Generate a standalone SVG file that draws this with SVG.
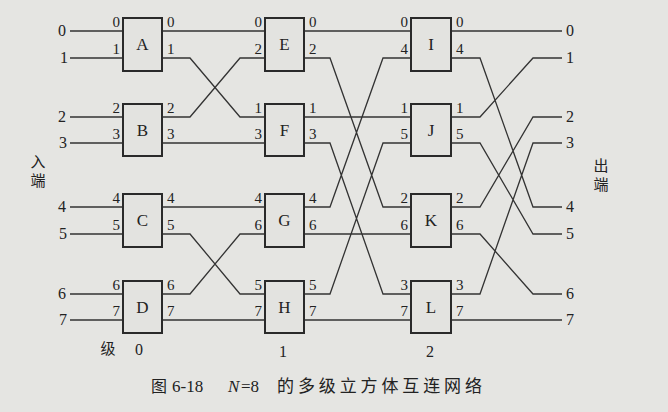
<svg xmlns="http://www.w3.org/2000/svg" width="668" height="412" viewBox="0 0 668 412">
<style>
.bg{fill:#e5e5e2}
.box{fill:#e3e3e0;stroke:#2a2a2a;stroke-width:2}
.w{fill:none;stroke:#333;stroke-width:1.3}
text{font-family:"Liberation Serif","Noto Sans CJK SC",serif;fill:#222}
.p{font-size:15px}
.pl{font-size:15px;text-anchor:end}
.n{font-size:17px;text-anchor:middle}
.io{font-size:16px;text-anchor:middle}
.cj{font-family:"Noto Sans CJK SC",sans-serif;font-size:15px;text-anchor:middle}
</style>
<rect class="bg" x="0" y="0" width="668" height="412"/>
<g id="connectors">
<path class="w" d="M70,31H123 M70,58H123 M70,117H123 M70,143H123 M70,207H123 M70,234H123 M70,294H123 M70,320H123"/>
<path class="w" d="M162,31H265 M162,58H190L240,117H265 M162,117H190L240,58H265 M162,143H265 M162,207H265 M162,234H190L240,294H265 M162,294H190L240,234H265 M162,320H265"/>
<path class="w" d="M304,31H411 M304,58H330L383,207H411 M304,117H411 M304,143H330L383,294H411 M304,207H330L383,58H411 M304,234H411 M304,294H330L383,143H411 M304,320H411"/>
<path class="w" d="M451,31H562 M451,58H480L533,207H562 M451,117H480L533,58H562 M451,143H480L533,234H562 M451,207H480L533,117H562 M451,234H480L533,294H562 M451,294H480L533,143H562 M451,320H562"/>
</g>
<g id="inputs">
<text class="io" x="62" y="36">0</text><text class="io" x="64" y="63">1</text>
<text class="io" x="62" y="122">2</text><text class="io" x="63" y="148">3</text>
<text class="io" x="62" y="212">4</text><text class="io" x="63" y="239">5</text>
<text class="io" x="62" y="299">6</text><text class="io" x="63" y="325">7</text>
<text class="cj" x="38" y="167">入</text><text class="cj" x="38" y="186">端</text>
</g>
<g id="outputs">
<text class="io" x="570" y="36">0</text><text class="io" x="570" y="63">1</text>
<text class="io" x="570" y="122">2</text><text class="io" x="570" y="148">3</text>
<text class="io" x="570" y="212">4</text><text class="io" x="570" y="239">5</text>
<text class="io" x="570" y="299">6</text><text class="io" x="570" y="325">7</text>
<text class="cj" x="601" y="171">出</text><text class="cj" x="601" y="190">端</text>
</g>
<g id="A"><rect class="box" x="123" y="18" width="39" height="53"/><text class="n" x="142.5" y="50">A</text>
<text class="pl" x="120" y="27">0</text><text class="pl" x="120" y="54">1</text><text class="p" x="167" y="27">0</text><text class="p" x="167" y="54">1</text></g>
<g id="B"><rect class="box" x="123" y="104" width="39" height="52"/><text class="n" x="142.5" y="136">B</text>
<text class="pl" x="120" y="113">2</text><text class="pl" x="120" y="139">3</text><text class="p" x="167" y="113">2</text><text class="p" x="167" y="139">3</text></g>
<g id="C"><rect class="box" x="123" y="194" width="39" height="53"/><text class="n" x="142.5" y="226">C</text>
<text class="pl" x="120" y="203">4</text><text class="pl" x="120" y="230">5</text><text class="p" x="167" y="203">4</text><text class="p" x="167" y="230">5</text></g>
<g id="D"><rect class="box" x="123" y="281" width="39" height="52"/><text class="n" x="142.5" y="313">D</text>
<text class="pl" x="120" y="290">6</text><text class="pl" x="120" y="316">7</text><text class="p" x="167" y="290">6</text><text class="p" x="167" y="316">7</text></g>
<g id="E"><rect class="box" x="265" y="18" width="39" height="53"/><text class="n" x="284.5" y="50">E</text>
<text class="pl" x="262" y="27">0</text><text class="pl" x="262" y="54">2</text><text class="p" x="309" y="27">0</text><text class="p" x="309" y="54">2</text></g>
<g id="F"><rect class="box" x="265" y="104" width="39" height="52"/><text class="n" x="284.5" y="136">F</text>
<text class="pl" x="262" y="113">1</text><text class="pl" x="262" y="139">3</text><text class="p" x="309" y="113">1</text><text class="p" x="309" y="139">3</text></g>
<g id="G"><rect class="box" x="265" y="194" width="39" height="53"/><text class="n" x="284.5" y="226">G</text>
<text class="pl" x="262" y="203">4</text><text class="pl" x="262" y="230">6</text><text class="p" x="309" y="203">4</text><text class="p" x="309" y="230">6</text></g>
<g id="H"><rect class="box" x="265" y="281" width="39" height="52"/><text class="n" x="284.5" y="313">H</text>
<text class="pl" x="262" y="290">5</text><text class="pl" x="262" y="316">7</text><text class="p" x="309" y="290">5</text><text class="p" x="309" y="316">7</text></g>
<g id="I"><rect class="box" x="411" y="18" width="40" height="53"/><text class="n" x="431" y="50">I</text>
<text class="pl" x="408" y="27">0</text><text class="pl" x="408" y="54">4</text><text class="p" x="456" y="27">0</text><text class="p" x="456" y="54">4</text></g>
<g id="J"><rect class="box" x="411" y="104" width="40" height="52"/><text class="n" x="431" y="136">J</text>
<text class="pl" x="408" y="113">1</text><text class="pl" x="408" y="139">5</text><text class="p" x="456" y="113">1</text><text class="p" x="456" y="139">5</text></g>
<g id="K"><rect class="box" x="411" y="194" width="40" height="53"/><text class="n" x="431" y="226">K</text>
<text class="pl" x="408" y="203">2</text><text class="pl" x="408" y="230">6</text><text class="p" x="456" y="203">2</text><text class="p" x="456" y="230">6</text></g>
<g id="L"><rect class="box" x="411" y="281" width="40" height="52"/><text class="n" x="431" y="313">L</text>
<text class="pl" x="408" y="290">3</text><text class="pl" x="408" y="316">7</text><text class="p" x="456" y="290">3</text><text class="p" x="456" y="316">7</text></g>
<g id="stages">
<text class="cj" x="108" y="354">级</text>
<text class="io" x="139" y="355">0</text><text class="io" x="283" y="357">1</text><text class="io" x="430" y="357">2</text>
</g>
<g id="caption">
<text x="151" y="392" style="font-family:'Noto Sans CJK SC',sans-serif;font-size:16px">图</text>
<text x="172" y="392" style="font-size:17px">6-18</text>
<text x="228" y="392" style="font-size:17px;font-style:italic">N</text>
<text x="241" y="392" style="font-size:17px">=8</text>
<text x="277" y="392" textLength="205" style="font-family:'Noto Sans CJK SC',sans-serif;font-size:17px">的多级立方体互连网络</text>
</g>
</svg>
